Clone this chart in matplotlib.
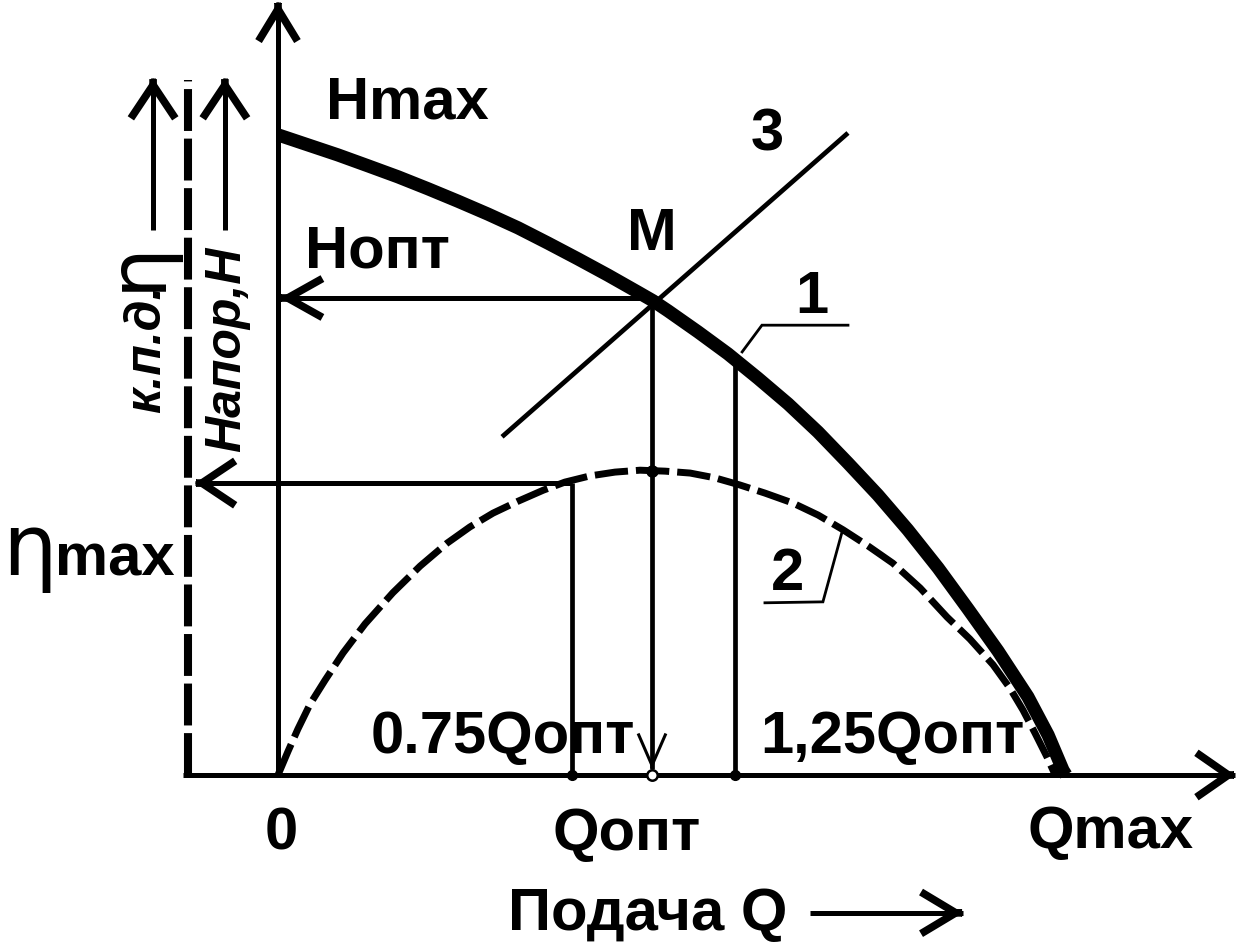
import matplotlib
matplotlib.use("Agg")
import matplotlib.pyplot as plt

# ---------------- data (Q in units of Qopt, H in units of Hopt) ----------------
# curve 1: head characteristic H(Q)
q_head = [0.000, 0.080, 0.160, 0.241, 0.321, 0.401, 0.481, 0.561, 0.642, 0.722,
          0.802, 0.882, 0.963, 1.003, 1.043, 1.123, 1.203, 1.283, 1.364, 1.444,
          1.524, 1.604, 1.684, 1.765, 1.845, 1.925, 2.005, 2.059, 2.099, 2.107]
h_head = [1.342, 1.321, 1.300, 1.277, 1.254, 1.229, 1.203, 1.176, 1.147, 1.115,
          1.082, 1.048, 1.012, 0.994, 0.973, 0.929, 0.883, 0.832, 0.778, 0.719,
          0.654, 0.587, 0.514, 0.434, 0.348, 0.260, 0.164, 0.084, 0.010, 0.000]

# curve 2: efficiency characteristic (dashed)
q_eff = [0.000, 0.027, 0.053, 0.086, 0.126, 0.174, 0.233, 0.307, 0.380, 0.452,
         0.513, 0.575, 0.642, 0.709, 0.767, 0.834, 0.901, 0.968, 1.035, 1.102,
         1.168, 1.235, 1.302, 1.377, 1.444, 1.511, 1.578, 1.644, 1.717, 1.789,
         1.850, 1.912, 1.957, 1.992, 2.024, 2.056, 2.078]
e_eff = [0.000, 0.050, 0.096, 0.149, 0.199, 0.256, 0.317, 0.382, 0.438, 0.486,
         0.520, 0.549, 0.574, 0.597, 0.614, 0.627, 0.635, 0.639, 0.637, 0.633,
         0.623, 0.608, 0.591, 0.570, 0.545, 0.514, 0.480, 0.444, 0.392, 0.331,
         0.285, 0.231, 0.182, 0.136, 0.088, 0.038, 0.000]

# line 3: system characteristic
q_sys = [0.599, 1.524]
h_sys = [0.709, 1.346]

# operating points on Q axis: 0.75Qopt, Qopt, 1.25Qopt
q_marks = [0.786, 1.000, 1.222]
Q_OPT = 1.0
H_OPT = 1.0
ETA_MAX_LEVEL = 0.612
ETA_AT_QOPT = 0.638
H_AT_125 = 0.872

# axis extents
Q_AXIS = [-0.254, 2.559]
H_AXIS = [0.0, 1.621]
Q_ETA_AXIS = -0.241
H_ETA_AXIS = [0.0, 1.457]
Q_SMALL_ARROWS = [-0.334, -0.142]
H_SMALL_ARROWS = [1.143, 1.461]
Q_ETA_ARROW_TIP = -0.222

# leader lines
lead1_q = [1.241, 1.294, 1.524]
lead1_h = [0.887, 0.943, 0.943]
lead2_q = [1.508, 1.457, 1.302]
lead2_h = [0.509, 0.363, 0.361]

# "Подача Q" arrow
q_feed_arrow = [1.422, 1.832]
h_feed_arrow = -0.289

# ---------------- figure ----------------
W, H = 1237, 942
fig = plt.figure(figsize=(W / 100, H / 100), dpi=100)
ax = fig.add_axes([0, 0, 1, 1])
ax.set_xlim(-278 / 374, (W - 278) / 374)
ax.set_ylim((775 - H) / 477, 775 / 477)
ax.axis("off")

K = "black"
FONT = "Liberation Sans"


def head(tip, direction, hl, hw, lw):
    """open V arrow head at tip pointing along direction (data units)"""
    eps = 0.004
    frm = (tip[0] - direction[0] * eps, tip[1] - direction[1] * eps)
    ax.annotate("", xy=tip, xytext=frm,
                arrowprops=dict(arrowstyle=f"->,head_length={hl},head_width={hw}",
                                lw=lw, color=K, shrinkA=0, shrinkB=0,
                                mutation_scale=1, joinstyle="miter",
                                capstyle="butt"))


# axes
ax.plot(Q_AXIS, [0, 0], color=K, lw=3.6, solid_capstyle="butt")
head((Q_AXIS[1], 0), (1, 0), 23, 16, 5.5)
ax.plot([0, 0], H_AXIS, color=K, lw=3.6, solid_capstyle="butt")
head((0, H_AXIS[1]), (0, 1), 23, 14, 5.5)

# dashed eta axis
ax.plot([Q_ETA_AXIS, Q_ETA_AXIS], H_ETA_AXIS, color=K, lw=5.8,
        dashes=(5.2, 0.95), solid_capstyle="butt", dash_capstyle="butt")

# small arrows for axis labels
for qx in Q_SMALL_ARROWS:
    ax.plot([qx, qx], H_SMALL_ARROWS, color=K, lw=3.6, solid_capstyle="butt")
    head((qx, H_SMALL_ARROWS[1]), (0, 1), 24, 16, 5.5)

# curve 2 (dashed)
ax.plot(q_eff, e_eff, color=K, lw=5.0, dashes=(4.8, 1.15), dash_capstyle="butt",
        dash_joinstyle="round")

# curve 1 (thick)
ax.plot(q_head, h_head, color=K, lw=9.5, solid_capstyle="butt",
        solid_joinstyle="round")

# line 3
ax.plot(q_sys, h_sys, color=K, lw=3.4, solid_capstyle="butt")

# Hopt arrow
ax.plot([Q_OPT, 0.005], [H_OPT, H_OPT], color=K, lw=3.6, solid_capstyle="butt")
head((0.005, H_OPT), (-1, 0), 25, 14, 5.5)

# eta max arrow
ax.plot([q_marks[0], Q_ETA_ARROW_TIP], [ETA_MAX_LEVEL, ETA_MAX_LEVEL], color=K,
        lw=3.6, solid_capstyle="butt")
head((Q_ETA_ARROW_TIP, ETA_MAX_LEVEL), (-1, 0), 24, 16, 5.5)

# verticals
ax.plot([q_marks[0], q_marks[0]], [0, ETA_MAX_LEVEL], color=K, lw=3.4,
        solid_capstyle="butt")
ax.plot([q_marks[2], q_marks[2]], [0, H_AT_125], color=K, lw=3.4,
        solid_capstyle="butt")
ax.plot([Q_OPT, Q_OPT], [H_OPT, 0.012], color=K, lw=3.4, solid_capstyle="butt")
head((Q_OPT, 0.012), (0, -1), 23, 10, 2.2)

# dots
ax.plot([q_marks[0], q_marks[2]], [0, 0], "o", color=K, ms=7)
ax.plot([Q_OPT], [0], "o", mfc="white", mec=K, mew=1.8, ms=7.5)
ax.plot([Q_OPT], [ETA_AT_QOPT], "o", color=K, ms=8)

# leaders
ax.plot(lead1_q, lead1_h, color=K, lw=2.0, solid_joinstyle="miter")
ax.plot(lead2_q, lead2_h, color=K, lw=2.0, solid_joinstyle="miter")

# feed arrow
ax.plot(q_feed_arrow, [h_feed_arrow] * 2, color=K, lw=3.6, solid_capstyle="butt")
head((q_feed_arrow[1], h_feed_arrow), (1, 0), 25, 15, 5.5)

# ---------------- texts ----------------
big = dict(fontsize=43, fontweight="bold", family=FONT, color=K)
ax.text(0.345, 1.377, "Hmax", ha="center", va="baseline", **big)
ax.text(0.265, 1.063, "Нопт", ha="center", va="baseline", **big)
ax.text(1.000, 1.101, "М", ha="center", va="baseline", **big)
ax.text(1.307, 1.310, "3", ha="center", va="baseline", **big)
ax.text(1.428, 0.969, "1", ha="center", va="baseline", **big)
ax.text(1.361, 0.388, "2", ha="center", va="baseline", **big)
ax.text(0.602, 0.046, "0.75Qопт", ha="center", va="baseline", **big)
ax.text(1.644, 0.046, "1,25Qопт", ha="center", va="baseline", **big)
ax.text(0.008, -0.157, "0", ha="center", va="baseline", **big)
ax.text(0.933, -0.157, "Qопт", ha="center", va="baseline", **big)
ax.text(2.227, -0.153, "Qmax", ha="center", va="baseline", **big)
ax.text(0.989, -0.325, "Подача Q", ha="center", va="baseline", **big)
ax.text(-0.596, 0.419, "max", ha="left", va="baseline", **big)
ax.text(-0.738, 0.419, "η", ha="left", va="baseline", fontsize=62,
        family=["Liberation Sans Narrow", "DejaVu Sans"], color=K)

# rotated axis labels
rot = dict(rotation=90, rotation_mode="anchor", ha="left", va="baseline", color=K)
ax.text(-0.316, 0.759, "к.п.д.", fontsize=36, fontweight="bold",
        fontstyle="italic", family=FONT, **rot)
ax.text(-0.316, 1.015, "η", fontsize=58,
        family=["Liberation Sans Narrow", "DejaVu Sans"], **rot)
ax.text(-0.102, 0.677, "Напор,Н", fontsize=36, fontweight="bold",
        fontstyle="italic", family=FONT, **rot)

fig.savefig("out.png", dpi=100)
